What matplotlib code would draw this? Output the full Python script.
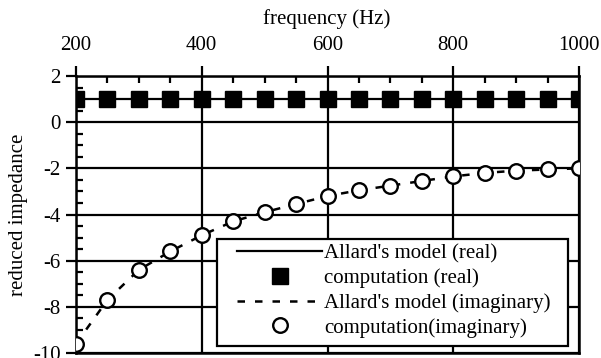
import matplotlib
matplotlib.use('Agg')
from matplotlib import pyplot as plt
from matplotlib.ticker import MultipleLocator
from matplotlib.patches import Rectangle

plt.rcParams['font.family'] = ['Liberation Serif', 'DejaVu Serif']
plt.rcParams['axes.unicode_minus'] = False

# data
freq = [200, 250, 300, 350, 400, 450, 500, 550, 600, 650, 700, 750, 800, 850, 900, 950, 1000]
model_real = [1.0] * 17
comp_real = [1.0] * 17
model_imag = [-9.6, -7.7, -6.4, -5.6, -4.9, -4.3, -3.9, -3.55, -3.2, -2.95, -2.75, -2.55, -2.35, -2.2, -2.1, -2.05, -2.0]
comp_imag = [-9.6, -7.7, -6.4, -5.6, -4.9, -4.3, -3.9, -3.55, -3.2, -2.95, -2.75, -2.55, -2.35, -2.2, -2.1, -2.05, -2.0]

fs = 15

fig = plt.figure(figsize=(6.01, 3.58), dpi=100)
ax = fig.add_axes([76 / 601, 5 / 358, 503 / 601, 277 / 358])

ax.plot(freq, model_real, c='k', lw=1.6, label="Allard's model (real)", zorder=3)
ax.plot(freq, comp_real, ls='none', marker='s', ms=11, mfc='k', mec='k',
        label='computation (real)', zorder=4)
ax.plot(freq, model_imag, c='k', lw=1.8, ls=(0, (3, 4)), label="Allard's model (imaginary)", zorder=3)
ax.plot(freq, comp_imag, ls='none', marker='o', ms=10.5, mfc='w', mec='k', mew=1.7,
        label='computation(imaginary)', zorder=4)

ax.set_xlim(200, 1000)
ax.set_ylim(-10, 2)
ax.xaxis.set_major_locator(MultipleLocator(200))
ax.xaxis.set_minor_locator(MultipleLocator(50))
ax.yaxis.set_major_locator(MultipleLocator(2))
ax.yaxis.set_minor_locator(MultipleLocator(0.5))
ax.xaxis.tick_top()
ax.tick_params(axis='x', which='major', direction='out', length=7, width=1.6, labelsize=fs, pad=8,
               top=True, bottom=False)
ax.tick_params(axis='x', which='minor', direction='in', length=5, width=1.6, top=True, bottom=False)
ax.tick_params(axis='y', which='major', direction='out', length=7, width=1.6, labelsize=fs, pad=4)
ax.tick_params(axis='y', which='minor', direction='in', length=5, width=1.6)
ax.grid(True, which='major', color='k', lw=1.6)
for s in ax.spines.values():
    s.set_linewidth(1.8)

fig.text(327 / 601, 1 - 19 / 358, 'frequency (Hz)', ha='center', va='center', fontsize=fs)
ax.set_ylabel('reduced impedance', fontsize=fs, labelpad=4)

# legend box: wider side padding than matplotlib gives, so frame drawn separately
frame = Rectangle((0.280, 0.025), 0.698, 0.387, transform=ax.transAxes, facecolor='w',
                  edgecolor='k', lw=1.6, zorder=5)
ax.add_patch(frame)
leg = ax.legend(loc='center', bbox_to_anchor=(0.632, 0.225), borderaxespad=0, borderpad=0,
                fontsize=fs, frameon=False, handlelength=4.1,
                handletextpad=0.1, labelspacing=0.24)
leg.set_zorder(6)

fig.savefig('out.png', dpi=100)
